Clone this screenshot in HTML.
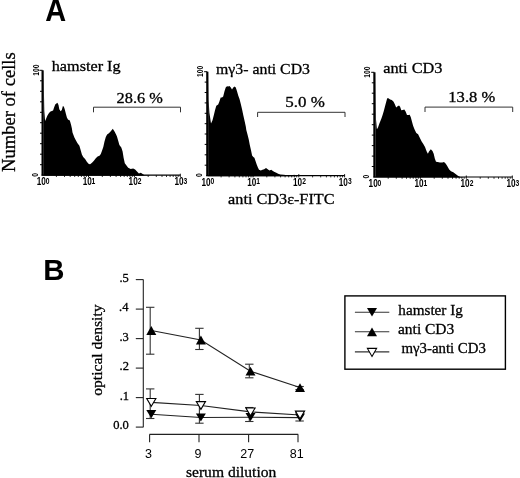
<!DOCTYPE html>
<html><head><meta charset="utf-8"><style>
html,body{margin:0;padding:0;background:#fff;width:520px;height:478px;overflow:hidden;}
svg{display:block;will-change:transform;}

</style></head><body>
<svg width="520" height="478" viewBox="0 0 520 478">
<rect width="520" height="478" fill="#fff"/>
<text transform="translate(45.30,20.80) scale(0.9349,1)" font-family="Liberation Sans" font-weight="700" font-size="31" fill="#000">A</text>
<text transform="translate(14.90,171.92) rotate(-90) scale(1.0324,1)" font-family="Liberation Serif" font-weight="400" font-size="18" fill="#000" stroke="#000" stroke-width="0.3">Number of cells</text>
<polygon points="43.5,175.8 43.5,70.5 44.3,111.0 45.1,120.9 45.9,119.3 47.2,115.9 48.5,113.8 50.1,111.7 51.8,110.9 53.1,110.5 53.9,108.0 55.2,104.6 56.4,103.4 57.4,102.7 58.5,105.0 59.3,109.2 60.6,111.3 61.8,110.1 62.9,105.9 63.9,106.7 64.8,109.6 66.0,114.2 66.9,117.6 68.1,119.7 69.4,120.1 70.2,121.8 71.1,125.1 71.9,128.5 72.5,132.6 74.4,137.6 75.7,140.1 77.5,143.2 79.4,145.8 80.7,150.2 81.9,154.5 83.2,157.1 85.1,158.9 87.0,162.1 88.8,164.0 90.1,164.2 92.0,162.7 93.9,160.8 95.8,158.3 97.6,156.4 99.5,155.8 100.8,153.9 102.0,150.8 103.3,147.0 104.5,141.4 105.8,137.0 107.1,134.4 108.9,133.2 110.8,131.3 112.8,128.8 114.4,131.3 115.7,133.8 116.9,136.3 118.2,140.7 119.4,145.1 121.3,147.6 122.6,151.4 123.6,157.7 124.8,163.3 126.3,165.2 128.2,167.7 130.7,169.0 133.2,168.4 135.1,169.6 137.0,171.5 138.9,173.4 140.8,172.8 142.7,174.0 144.5,175.3 150.0,175.5 150.0,175.8" fill="#000"/>
<line x1="42.6" y1="70.3" x2="42.6" y2="175.7" stroke="#000" stroke-width="2.2"/>
<line x1="39.4" y1="70.3" x2="42.6" y2="70.3" stroke="#000" stroke-width="1"/>
<line x1="40.0" y1="80.8" x2="42.6" y2="80.8" stroke="#000" stroke-width="1"/>
<line x1="40.0" y1="91.3" x2="42.6" y2="91.3" stroke="#000" stroke-width="1"/>
<line x1="40.0" y1="101.8" x2="42.6" y2="101.8" stroke="#000" stroke-width="1"/>
<line x1="40.0" y1="112.3" x2="42.6" y2="112.3" stroke="#000" stroke-width="1"/>
<line x1="40.0" y1="122.7" x2="42.6" y2="122.7" stroke="#000" stroke-width="1"/>
<line x1="40.0" y1="133.2" x2="42.6" y2="133.2" stroke="#000" stroke-width="1"/>
<line x1="40.0" y1="143.7" x2="42.6" y2="143.7" stroke="#000" stroke-width="1"/>
<line x1="40.0" y1="154.2" x2="42.6" y2="154.2" stroke="#000" stroke-width="1"/>
<line x1="40.0" y1="164.7" x2="42.6" y2="164.7" stroke="#000" stroke-width="1"/>
<line x1="41.6" y1="175.2" x2="180.3" y2="175.2" stroke="#000" stroke-width="1.2"/>
<line x1="56.4" y1="175.2" x2="56.4" y2="177.0" stroke="#000" stroke-width="0.8"/>
<line x1="64.5" y1="175.2" x2="64.5" y2="177.0" stroke="#000" stroke-width="0.8"/>
<line x1="70.2" y1="175.2" x2="70.2" y2="177.0" stroke="#000" stroke-width="0.8"/>
<line x1="74.7" y1="175.2" x2="74.7" y2="177.0" stroke="#000" stroke-width="0.8"/>
<line x1="78.3" y1="175.2" x2="78.3" y2="177.0" stroke="#000" stroke-width="0.8"/>
<line x1="81.4" y1="175.2" x2="81.4" y2="177.0" stroke="#000" stroke-width="0.8"/>
<line x1="84.1" y1="175.2" x2="84.1" y2="177.0" stroke="#000" stroke-width="0.8"/>
<line x1="86.4" y1="175.2" x2="86.4" y2="177.0" stroke="#000" stroke-width="0.8"/>
<line x1="102.3" y1="175.2" x2="102.3" y2="177.0" stroke="#000" stroke-width="0.8"/>
<line x1="110.4" y1="175.2" x2="110.4" y2="177.0" stroke="#000" stroke-width="0.8"/>
<line x1="116.1" y1="175.2" x2="116.1" y2="177.0" stroke="#000" stroke-width="0.8"/>
<line x1="120.6" y1="175.2" x2="120.6" y2="177.0" stroke="#000" stroke-width="0.8"/>
<line x1="124.2" y1="175.2" x2="124.2" y2="177.0" stroke="#000" stroke-width="0.8"/>
<line x1="127.3" y1="175.2" x2="127.3" y2="177.0" stroke="#000" stroke-width="0.8"/>
<line x1="130.0" y1="175.2" x2="130.0" y2="177.0" stroke="#000" stroke-width="0.8"/>
<line x1="132.3" y1="175.2" x2="132.3" y2="177.0" stroke="#000" stroke-width="0.8"/>
<line x1="148.2" y1="175.2" x2="148.2" y2="177.0" stroke="#000" stroke-width="0.8"/>
<line x1="156.3" y1="175.2" x2="156.3" y2="177.0" stroke="#000" stroke-width="0.8"/>
<line x1="162.0" y1="175.2" x2="162.0" y2="177.0" stroke="#000" stroke-width="0.8"/>
<line x1="166.5" y1="175.2" x2="166.5" y2="177.0" stroke="#000" stroke-width="0.8"/>
<line x1="170.1" y1="175.2" x2="170.1" y2="177.0" stroke="#000" stroke-width="0.8"/>
<line x1="173.2" y1="175.2" x2="173.2" y2="177.0" stroke="#000" stroke-width="0.8"/>
<line x1="175.9" y1="175.2" x2="175.9" y2="177.0" stroke="#000" stroke-width="0.8"/>
<line x1="178.2" y1="175.2" x2="178.2" y2="177.0" stroke="#000" stroke-width="0.8"/>
<line x1="88.5" y1="173.7" x2="88.5" y2="177.0" stroke="#000" stroke-width="0.9"/>
<line x1="134.4" y1="173.7" x2="134.4" y2="177.0" stroke="#000" stroke-width="0.9"/>
<line x1="180.3" y1="173.7" x2="180.3" y2="177.0" stroke="#000" stroke-width="0.9"/>
<text transform="translate(36.79,185.10) scale(0.8200,1)" font-family="Liberation Sans" font-weight="700" font-size="10" fill="#000">10</text>
<text transform="translate(45.81,183.90) scale(0.7800,1)" font-family="Liberation Sans" font-weight="700" font-size="8.6" fill="#000">0</text>
<text transform="translate(82.69,185.10) scale(0.8200,1)" font-family="Liberation Sans" font-weight="700" font-size="10" fill="#000">10</text>
<text transform="translate(91.61,183.90) scale(0.7800,1)" font-family="Liberation Sans" font-weight="700" font-size="8.6" fill="#000">1</text>
<text transform="translate(128.59,185.10) scale(0.8200,1)" font-family="Liberation Sans" font-weight="700" font-size="10" fill="#000">10</text>
<text transform="translate(137.71,183.90) scale(0.7800,1)" font-family="Liberation Sans" font-weight="700" font-size="8.6" fill="#000">2</text>
<text transform="translate(174.49,185.10) scale(0.8200,1)" font-family="Liberation Sans" font-weight="700" font-size="10" fill="#000">10</text>
<text transform="translate(183.61,183.90) scale(0.7800,1)" font-family="Liberation Sans" font-weight="700" font-size="8.6" fill="#000">3</text>
<text transform="translate(38.60,75.70) rotate(-90) scale(0.8000,1)" font-family="Liberation Sans" font-weight="700" font-size="8.5" fill="#000">100</text>
<text transform="translate(37.60,176.70) rotate(-90) scale(0.8000,1)" font-family="Liberation Sans" font-weight="700" font-size="8.5" fill="#000">0</text>
<text transform="translate(51.76,70.90) scale(1.0809,1)" font-family="Liberation Serif" font-weight="400" font-size="15" fill="#000" stroke="#000" stroke-width="0.3">hamster Ig</text>
<text transform="translate(116.62,102.60) scale(1.0876,1)" font-family="Liberation Serif" font-weight="400" font-size="15" fill="#000" stroke="#000" stroke-width="0.3">28.6 %</text>
<polyline points="93.5,112.3 93.5,107.2 180.5,107.2 180.5,112.3" fill="none" stroke="#333" stroke-width="1"/>
<polygon points="208.2,176.2 208.2,72.0 208.6,100.0 209.4,112.7 211.0,123.4 212.5,120.2 213.8,115.2 215.0,110.2 216.3,105.8 218.2,104.5 219.4,101.4 220.7,97.4 222.0,97.6 223.2,96.4 224.5,91.3 225.7,87.6 227.0,86.3 228.2,86.6 229.5,86.1 230.8,87.6 232.0,89.4 233.3,87.6 234.5,86.6 235.8,87.6 237.0,91.3 238.3,95.7 239.5,98.9 240.8,103.9 242.1,109.5 243.3,115.2 244.6,120.9 245.8,126.5 246.3,130.0 247.5,134.6 248.7,139.2 249.8,145.0 251.0,150.2 252.1,155.4 253.3,157.1 254.4,157.7 255.6,161.2 256.7,164.6 257.9,167.5 259.0,169.8 260.8,170.4 262.5,169.8 264.2,169.2 266.0,168.1 267.7,169.2 269.4,170.4 271.2,169.8 272.9,171.0 274.6,172.1 276.3,172.7 278.1,173.8 280.4,174.4 283.8,174.8 287.3,175.2 289.6,175.9 294.2,174.8 296.5,175.9 296.5,176.2" fill="#000"/>
<line x1="207.3" y1="71.7" x2="207.3" y2="176.1" stroke="#000" stroke-width="2.2"/>
<line x1="204.10000000000002" y1="71.7" x2="207.3" y2="71.7" stroke="#000" stroke-width="1"/>
<line x1="204.70000000000002" y1="82.1" x2="207.3" y2="82.1" stroke="#000" stroke-width="1"/>
<line x1="204.70000000000002" y1="92.5" x2="207.3" y2="92.5" stroke="#000" stroke-width="1"/>
<line x1="204.70000000000002" y1="102.9" x2="207.3" y2="102.9" stroke="#000" stroke-width="1"/>
<line x1="204.70000000000002" y1="113.3" x2="207.3" y2="113.3" stroke="#000" stroke-width="1"/>
<line x1="204.70000000000002" y1="123.7" x2="207.3" y2="123.7" stroke="#000" stroke-width="1"/>
<line x1="204.70000000000002" y1="134.0" x2="207.3" y2="134.0" stroke="#000" stroke-width="1"/>
<line x1="204.70000000000002" y1="144.4" x2="207.3" y2="144.4" stroke="#000" stroke-width="1"/>
<line x1="204.70000000000002" y1="154.8" x2="207.3" y2="154.8" stroke="#000" stroke-width="1"/>
<line x1="204.70000000000002" y1="165.2" x2="207.3" y2="165.2" stroke="#000" stroke-width="1"/>
<line x1="206.3" y1="175.6" x2="344.6" y2="175.6" stroke="#000" stroke-width="1.2"/>
<line x1="221.1" y1="175.6" x2="221.1" y2="177.4" stroke="#000" stroke-width="0.8"/>
<line x1="229.1" y1="175.6" x2="229.1" y2="177.4" stroke="#000" stroke-width="0.8"/>
<line x1="234.9" y1="175.6" x2="234.9" y2="177.4" stroke="#000" stroke-width="0.8"/>
<line x1="239.3" y1="175.6" x2="239.3" y2="177.4" stroke="#000" stroke-width="0.8"/>
<line x1="242.9" y1="175.6" x2="242.9" y2="177.4" stroke="#000" stroke-width="0.8"/>
<line x1="246.0" y1="175.6" x2="246.0" y2="177.4" stroke="#000" stroke-width="0.8"/>
<line x1="248.6" y1="175.6" x2="248.6" y2="177.4" stroke="#000" stroke-width="0.8"/>
<line x1="251.0" y1="175.6" x2="251.0" y2="177.4" stroke="#000" stroke-width="0.8"/>
<line x1="266.8" y1="175.6" x2="266.8" y2="177.4" stroke="#000" stroke-width="0.8"/>
<line x1="274.9" y1="175.6" x2="274.9" y2="177.4" stroke="#000" stroke-width="0.8"/>
<line x1="280.6" y1="175.6" x2="280.6" y2="177.4" stroke="#000" stroke-width="0.8"/>
<line x1="285.1" y1="175.6" x2="285.1" y2="177.4" stroke="#000" stroke-width="0.8"/>
<line x1="288.7" y1="175.6" x2="288.7" y2="177.4" stroke="#000" stroke-width="0.8"/>
<line x1="291.7" y1="175.6" x2="291.7" y2="177.4" stroke="#000" stroke-width="0.8"/>
<line x1="294.4" y1="175.6" x2="294.4" y2="177.4" stroke="#000" stroke-width="0.8"/>
<line x1="296.7" y1="175.6" x2="296.7" y2="177.4" stroke="#000" stroke-width="0.8"/>
<line x1="312.6" y1="175.6" x2="312.6" y2="177.4" stroke="#000" stroke-width="0.8"/>
<line x1="320.7" y1="175.6" x2="320.7" y2="177.4" stroke="#000" stroke-width="0.8"/>
<line x1="326.4" y1="175.6" x2="326.4" y2="177.4" stroke="#000" stroke-width="0.8"/>
<line x1="330.8" y1="175.6" x2="330.8" y2="177.4" stroke="#000" stroke-width="0.8"/>
<line x1="334.4" y1="175.6" x2="334.4" y2="177.4" stroke="#000" stroke-width="0.8"/>
<line x1="337.5" y1="175.6" x2="337.5" y2="177.4" stroke="#000" stroke-width="0.8"/>
<line x1="340.2" y1="175.6" x2="340.2" y2="177.4" stroke="#000" stroke-width="0.8"/>
<line x1="342.5" y1="175.6" x2="342.5" y2="177.4" stroke="#000" stroke-width="0.8"/>
<line x1="253.1" y1="174.1" x2="253.1" y2="177.4" stroke="#000" stroke-width="0.9"/>
<line x1="298.8" y1="174.1" x2="298.8" y2="177.4" stroke="#000" stroke-width="0.9"/>
<line x1="344.6" y1="174.1" x2="344.6" y2="177.4" stroke="#000" stroke-width="0.9"/>
<text transform="translate(201.49,185.50) scale(0.8200,1)" font-family="Liberation Sans" font-weight="700" font-size="10" fill="#000">10</text>
<text transform="translate(210.51,184.30) scale(0.7800,1)" font-family="Liberation Sans" font-weight="700" font-size="8.6" fill="#000">0</text>
<text transform="translate(247.25,185.50) scale(0.8200,1)" font-family="Liberation Sans" font-weight="700" font-size="10" fill="#000">10</text>
<text transform="translate(256.18,184.30) scale(0.7800,1)" font-family="Liberation Sans" font-weight="700" font-size="8.6" fill="#000">1</text>
<text transform="translate(293.02,185.50) scale(0.8200,1)" font-family="Liberation Sans" font-weight="700" font-size="10" fill="#000">10</text>
<text transform="translate(302.14,184.30) scale(0.7800,1)" font-family="Liberation Sans" font-weight="700" font-size="8.6" fill="#000">2</text>
<text transform="translate(338.79,185.50) scale(0.8200,1)" font-family="Liberation Sans" font-weight="700" font-size="10" fill="#000">10</text>
<text transform="translate(347.91,184.30) scale(0.7800,1)" font-family="Liberation Sans" font-weight="700" font-size="8.6" fill="#000">3</text>
<text transform="translate(203.30,77.10) rotate(-90) scale(0.8000,1)" font-family="Liberation Sans" font-weight="700" font-size="8.5" fill="#000">100</text>
<text transform="translate(202.30,177.10) rotate(-90) scale(0.8000,1)" font-family="Liberation Sans" font-weight="700" font-size="8.5" fill="#000">0</text>
<text transform="translate(216.04,73.70) scale(1.0550,1)" font-family="Liberation Serif" font-weight="400" font-size="15" fill="#000" stroke="#000" stroke-width="0.3">mγ3- anti CD3</text>
<text transform="translate(285.21,106.90) scale(1.1301,1)" font-family="Liberation Serif" font-weight="400" font-size="15" fill="#000" stroke="#000" stroke-width="0.3">5.0 %</text>
<polyline points="257.6,117.0 257.6,112.3 345.0,112.3 345.0,117.0" fill="none" stroke="#333" stroke-width="1"/>
<polygon points="375.4,177.6 375.4,73.0 376.0,119.5 376.9,129.3 378.0,127.5 379.2,124.1 380.3,121.2 381.5,118.3 382.6,114.9 383.8,110.9 384.9,106.8 386.1,102.2 387.2,98.2 388.4,98.2 390.1,99.4 391.8,99.9 393.6,101.7 394.7,104.0 396.2,107.4 397.6,106.3 399.0,105.5 400.1,106.8 401.3,110.3 402.8,110.1 404.3,109.4 405.6,111.4 407.0,114.9 408.5,114.9 409.7,114.7 410.8,117.2 412.0,121.8 413.1,125.8 414.6,129.6 416.3,133.1 418.1,134.2 419.8,137.7 421.5,141.2 423.3,144.0 425.0,146.9 426.7,151.5 427.9,153.8 429.0,151.5 430.8,149.2 432.5,151.0 433.7,153.8 434.8,158.5 436.0,161.7 437.7,161.9 440.0,162.5 442.3,162.5 444.0,161.9 445.8,163.7 447.5,166.5 449.2,169.4 451.0,171.2 453.3,172.3 455.6,174.0 457.9,175.8 460.2,176.9 464.2,177.5 464.2,177.6" fill="#000"/>
<line x1="374.4" y1="72.3" x2="374.4" y2="177.5" stroke="#000" stroke-width="2.2"/>
<line x1="371.2" y1="72.3" x2="374.4" y2="72.3" stroke="#000" stroke-width="1"/>
<line x1="371.79999999999995" y1="82.8" x2="374.4" y2="82.8" stroke="#000" stroke-width="1"/>
<line x1="371.79999999999995" y1="93.2" x2="374.4" y2="93.2" stroke="#000" stroke-width="1"/>
<line x1="371.79999999999995" y1="103.7" x2="374.4" y2="103.7" stroke="#000" stroke-width="1"/>
<line x1="371.79999999999995" y1="114.2" x2="374.4" y2="114.2" stroke="#000" stroke-width="1"/>
<line x1="371.79999999999995" y1="124.7" x2="374.4" y2="124.7" stroke="#000" stroke-width="1"/>
<line x1="371.79999999999995" y1="135.1" x2="374.4" y2="135.1" stroke="#000" stroke-width="1"/>
<line x1="371.79999999999995" y1="145.6" x2="374.4" y2="145.6" stroke="#000" stroke-width="1"/>
<line x1="371.79999999999995" y1="156.1" x2="374.4" y2="156.1" stroke="#000" stroke-width="1"/>
<line x1="371.79999999999995" y1="166.5" x2="374.4" y2="166.5" stroke="#000" stroke-width="1"/>
<line x1="373.4" y1="177.0" x2="512.3" y2="177.0" stroke="#000" stroke-width="1.2"/>
<line x1="388.2" y1="177.0" x2="388.2" y2="178.8" stroke="#000" stroke-width="0.8"/>
<line x1="396.3" y1="177.0" x2="396.3" y2="178.8" stroke="#000" stroke-width="0.8"/>
<line x1="402.1" y1="177.0" x2="402.1" y2="178.8" stroke="#000" stroke-width="0.8"/>
<line x1="406.5" y1="177.0" x2="406.5" y2="178.8" stroke="#000" stroke-width="0.8"/>
<line x1="410.2" y1="177.0" x2="410.2" y2="178.8" stroke="#000" stroke-width="0.8"/>
<line x1="413.2" y1="177.0" x2="413.2" y2="178.8" stroke="#000" stroke-width="0.8"/>
<line x1="415.9" y1="177.0" x2="415.9" y2="178.8" stroke="#000" stroke-width="0.8"/>
<line x1="418.3" y1="177.0" x2="418.3" y2="178.8" stroke="#000" stroke-width="0.8"/>
<line x1="434.2" y1="177.0" x2="434.2" y2="178.8" stroke="#000" stroke-width="0.8"/>
<line x1="442.3" y1="177.0" x2="442.3" y2="178.8" stroke="#000" stroke-width="0.8"/>
<line x1="448.0" y1="177.0" x2="448.0" y2="178.8" stroke="#000" stroke-width="0.8"/>
<line x1="452.5" y1="177.0" x2="452.5" y2="178.8" stroke="#000" stroke-width="0.8"/>
<line x1="456.1" y1="177.0" x2="456.1" y2="178.8" stroke="#000" stroke-width="0.8"/>
<line x1="459.2" y1="177.0" x2="459.2" y2="178.8" stroke="#000" stroke-width="0.8"/>
<line x1="461.9" y1="177.0" x2="461.9" y2="178.8" stroke="#000" stroke-width="0.8"/>
<line x1="464.2" y1="177.0" x2="464.2" y2="178.8" stroke="#000" stroke-width="0.8"/>
<line x1="480.2" y1="177.0" x2="480.2" y2="178.8" stroke="#000" stroke-width="0.8"/>
<line x1="488.3" y1="177.0" x2="488.3" y2="178.8" stroke="#000" stroke-width="0.8"/>
<line x1="494.0" y1="177.0" x2="494.0" y2="178.8" stroke="#000" stroke-width="0.8"/>
<line x1="498.5" y1="177.0" x2="498.5" y2="178.8" stroke="#000" stroke-width="0.8"/>
<line x1="502.1" y1="177.0" x2="502.1" y2="178.8" stroke="#000" stroke-width="0.8"/>
<line x1="505.2" y1="177.0" x2="505.2" y2="178.8" stroke="#000" stroke-width="0.8"/>
<line x1="507.8" y1="177.0" x2="507.8" y2="178.8" stroke="#000" stroke-width="0.8"/>
<line x1="510.2" y1="177.0" x2="510.2" y2="178.8" stroke="#000" stroke-width="0.8"/>
<line x1="420.4" y1="175.5" x2="420.4" y2="178.8" stroke="#000" stroke-width="0.9"/>
<line x1="466.3" y1="175.5" x2="466.3" y2="178.8" stroke="#000" stroke-width="0.9"/>
<line x1="512.3" y1="175.5" x2="512.3" y2="178.8" stroke="#000" stroke-width="0.9"/>
<text transform="translate(368.59,186.90) scale(0.8200,1)" font-family="Liberation Sans" font-weight="700" font-size="10" fill="#000">10</text>
<text transform="translate(377.61,185.70) scale(0.7800,1)" font-family="Liberation Sans" font-weight="700" font-size="8.6" fill="#000">0</text>
<text transform="translate(414.55,186.90) scale(0.8200,1)" font-family="Liberation Sans" font-weight="700" font-size="10" fill="#000">10</text>
<text transform="translate(423.48,185.70) scale(0.7800,1)" font-family="Liberation Sans" font-weight="700" font-size="8.6" fill="#000">1</text>
<text transform="translate(460.52,186.90) scale(0.8200,1)" font-family="Liberation Sans" font-weight="700" font-size="10" fill="#000">10</text>
<text transform="translate(469.64,185.70) scale(0.7800,1)" font-family="Liberation Sans" font-weight="700" font-size="8.6" fill="#000">2</text>
<text transform="translate(506.49,186.90) scale(0.8200,1)" font-family="Liberation Sans" font-weight="700" font-size="10" fill="#000">10</text>
<text transform="translate(515.60,185.70) scale(0.7800,1)" font-family="Liberation Sans" font-weight="700" font-size="8.6" fill="#000">3</text>
<text transform="translate(370.40,77.70) rotate(-90) scale(0.8000,1)" font-family="Liberation Sans" font-weight="700" font-size="8.5" fill="#000">100</text>
<text transform="translate(369.40,178.50) rotate(-90) scale(0.8000,1)" font-family="Liberation Sans" font-weight="700" font-size="8.5" fill="#000">0</text>
<text transform="translate(383.16,73.30) scale(1.0879,1)" font-family="Liberation Serif" font-weight="400" font-size="15" fill="#000" stroke="#000" stroke-width="0.3">anti CD3</text>
<text transform="translate(448.32,102.10) scale(1.1043,1)" font-family="Liberation Serif" font-weight="400" font-size="15" fill="#000" stroke="#000" stroke-width="0.3">13.8 %</text>
<polyline points="425.0,112.0 425.0,107.1 512.7,107.1 512.7,112.0" fill="none" stroke="#333" stroke-width="1"/>
<text transform="translate(228.06,204.20) scale(1.0831,1)" font-family="Liberation Serif" font-weight="400" font-size="15" fill="#000" stroke="#000" stroke-width="0.3">anti CD3ε-FITC</text>
<text transform="translate(43.14,280.30) scale(0.9796,1)" font-family="Liberation Sans" font-weight="700" font-size="30" fill="#000">B</text>
<line x1="143.3" y1="279.6" x2="143.3" y2="427.2" stroke="#222" stroke-width="1.1"/>
<line x1="135.8" y1="279.6" x2="143.3" y2="279.6" stroke="#222" stroke-width="1.1"/>
<text transform="translate(119.43,281.60) scale(1.0000,1)" font-family="Liberation Serif" font-weight="400" font-size="12.5" fill="#000" stroke="#000" stroke-width="0.3">.5</text>
<line x1="135.8" y1="309.1" x2="143.3" y2="309.1" stroke="#222" stroke-width="1.1"/>
<text transform="translate(119.05,311.10) scale(1.0000,1)" font-family="Liberation Serif" font-weight="400" font-size="12.5" fill="#000" stroke="#000" stroke-width="0.3">.4</text>
<line x1="135.8" y1="338.6" x2="143.3" y2="338.6" stroke="#222" stroke-width="1.1"/>
<text transform="translate(119.43,340.60) scale(1.0000,1)" font-family="Liberation Serif" font-weight="400" font-size="12.5" fill="#000" stroke="#000" stroke-width="0.3">.3</text>
<line x1="135.8" y1="368.1" x2="143.3" y2="368.1" stroke="#222" stroke-width="1.1"/>
<text transform="translate(119.55,370.10) scale(1.0000,1)" font-family="Liberation Serif" font-weight="400" font-size="12.5" fill="#000" stroke="#000" stroke-width="0.3">.2</text>
<line x1="135.8" y1="397.6" x2="143.3" y2="397.6" stroke="#222" stroke-width="1.1"/>
<text transform="translate(119.68,399.60) scale(1.0000,1)" font-family="Liberation Serif" font-weight="400" font-size="12.5" fill="#000" stroke="#000" stroke-width="0.3">.1</text>
<line x1="135.8" y1="427.1" x2="143.3" y2="427.1" stroke="#222" stroke-width="1.1"/>
<text transform="translate(113.18,429.10) scale(1.0000,1)" font-family="Liberation Serif" font-weight="400" font-size="12.5" fill="#000" stroke="#000" stroke-width="0.3">0.0</text>
<text transform="translate(102.00,395.72) rotate(-90) scale(1.0392,1)" font-family="Liberation Serif" font-weight="400" font-size="15" fill="#000" stroke="#000" stroke-width="0.3">optical density</text>
<line x1="149.4" y1="434.4" x2="298.2" y2="434.4" stroke="#222" stroke-width="1.1"/>
<line x1="149.6" y1="434.4" x2="149.6" y2="442.2" stroke="#222" stroke-width="1.1"/>
<line x1="199.0" y1="434.4" x2="199.0" y2="442.2" stroke="#222" stroke-width="1.1"/>
<line x1="248.6" y1="434.4" x2="248.6" y2="442.2" stroke="#222" stroke-width="1.1"/>
<line x1="298.0" y1="434.4" x2="298.0" y2="442.2" stroke="#222" stroke-width="1.1"/>
<text transform="translate(145.11,457.50) scale(1.0000,1)" font-family="Liberation Sans" font-weight="400" font-size="12.5" fill="#000">3</text>
<text transform="translate(194.45,457.50) scale(1.0000,1)" font-family="Liberation Sans" font-weight="400" font-size="12.5" fill="#000">9</text>
<text transform="translate(240.30,457.50) scale(1.0000,1)" font-family="Liberation Sans" font-weight="400" font-size="12.5" fill="#000">27</text>
<text transform="translate(289.76,457.50) scale(1.0000,1)" font-family="Liberation Sans" font-weight="400" font-size="12.5" fill="#000">81</text>
<text transform="translate(185.95,476.50) scale(1.0388,1)" font-family="Liberation Serif" font-weight="400" font-size="15" fill="#000" stroke="#000" stroke-width="0.3">serum dilution</text>
<line x1="150.2" y1="307.3" x2="150.2" y2="354.2" stroke="#333" stroke-width="1.1"/>
<line x1="146.0" y1="307.3" x2="154.39999999999998" y2="307.3" stroke="#333" stroke-width="1.1"/>
<line x1="146.0" y1="354.2" x2="154.39999999999998" y2="354.2" stroke="#333" stroke-width="1.1"/>
<line x1="199.4" y1="328.3" x2="199.4" y2="349.5" stroke="#333" stroke-width="1.1"/>
<line x1="195.20000000000002" y1="328.3" x2="203.6" y2="328.3" stroke="#333" stroke-width="1.1"/>
<line x1="195.20000000000002" y1="349.5" x2="203.6" y2="349.5" stroke="#333" stroke-width="1.1"/>
<line x1="249.3" y1="364.2" x2="249.3" y2="377.8" stroke="#333" stroke-width="1.1"/>
<line x1="245.10000000000002" y1="364.2" x2="253.5" y2="364.2" stroke="#333" stroke-width="1.1"/>
<line x1="245.10000000000002" y1="377.8" x2="253.5" y2="377.8" stroke="#333" stroke-width="1.1"/>
<line x1="299.6" y1="386.5" x2="299.6" y2="389.6" stroke="#333" stroke-width="1.1"/>
<line x1="295.40000000000003" y1="386.5" x2="303.8" y2="386.5" stroke="#333" stroke-width="1.1"/>
<line x1="295.40000000000003" y1="389.6" x2="303.8" y2="389.6" stroke="#333" stroke-width="1.1"/>
<line x1="150.2" y1="388.9" x2="150.2" y2="418.5" stroke="#333" stroke-width="1.1"/>
<line x1="146.0" y1="388.9" x2="154.39999999999998" y2="388.9" stroke="#333" stroke-width="1.1"/>
<line x1="146.0" y1="418.5" x2="154.39999999999998" y2="418.5" stroke="#333" stroke-width="1.1"/>
<line x1="199.4" y1="394.4" x2="199.4" y2="423.2" stroke="#333" stroke-width="1.1"/>
<line x1="195.20000000000002" y1="394.4" x2="203.6" y2="394.4" stroke="#333" stroke-width="1.1"/>
<line x1="195.20000000000002" y1="423.2" x2="203.6" y2="423.2" stroke="#333" stroke-width="1.1"/>
<line x1="249.3" y1="407.5" x2="249.3" y2="421.5" stroke="#333" stroke-width="1.1"/>
<line x1="245.10000000000002" y1="407.5" x2="253.5" y2="407.5" stroke="#333" stroke-width="1.1"/>
<line x1="245.10000000000002" y1="421.5" x2="253.5" y2="421.5" stroke="#333" stroke-width="1.1"/>
<line x1="299.6" y1="412.5" x2="299.6" y2="421.0" stroke="#333" stroke-width="1.1"/>
<line x1="295.40000000000003" y1="412.5" x2="303.8" y2="412.5" stroke="#333" stroke-width="1.1"/>
<line x1="295.40000000000003" y1="421.0" x2="303.8" y2="421.0" stroke="#333" stroke-width="1.1"/>
<polyline points="151.3,330.5 200.9,340.0 250.5,371.2 300.0,387.6" fill="none" stroke="#222" stroke-width="1.1"/>
<polyline points="151.3,402.4 200.9,405.5 250.5,411.9 300.0,415.0" fill="none" stroke="#222" stroke-width="1.1"/>
<polyline points="151.3,414.2 200.9,417.5 250.5,417.2 300.0,417.6" fill="none" stroke="#222" stroke-width="1.1"/>
<polygon points="151.3,326.1 156.3,334.9 146.3,334.9" fill="#000"/>
<polygon points="200.9,335.6 205.9,344.4 195.9,344.4" fill="#000"/>
<polygon points="250.5,366.8 255.5,375.6 245.5,375.6" fill="#000"/>
<polygon points="300.0,383.2 305.0,392.0 295.0,392.0" fill="#000"/>
<polygon points="151.3,418.3 156.3,410.1 146.3,410.1" fill="#000"/>
<polygon points="200.9,421.6 205.9,413.4 195.9,413.4" fill="#000"/>
<polygon points="250.5,421.3 255.5,413.1 245.5,413.1" fill="#000"/>
<polygon points="300.0,421.8 305.0,413.5 295.0,413.5" fill="#000"/>
<polygon points="151.3,406.3 155.9,398.5 146.7,398.5" fill="#fff" stroke="#000" stroke-width="1.1"/>
<polygon points="200.9,409.4 205.5,401.6 196.3,401.6" fill="#fff" stroke="#000" stroke-width="1.1"/>
<polygon points="250.5,415.8 255.1,408.0 245.9,408.0" fill="#fff" stroke="#000" stroke-width="1.1"/>
<polygon points="300.0,418.9 304.6,411.1 295.4,411.1" fill="#fff" stroke="#000" stroke-width="1.1"/>
<rect x="344.9" y="295.9" width="160.5" height="73.3" fill="none" stroke="#000" stroke-width="1.4"/>
<line x1="354.9" y1="312.2" x2="389.3" y2="312.2" stroke="#333" stroke-width="1.1"/>
<polygon points="372.0,316.4 377.0,307.9 367.0,307.9" fill="#000"/>
<line x1="354.9" y1="331.8" x2="389.3" y2="331.8" stroke="#333" stroke-width="1.1"/>
<polygon points="372.0,327.4 377.0,336.2 367.0,336.2" fill="#000"/>
<line x1="354.9" y1="351.9" x2="389.3" y2="351.9" stroke="#333" stroke-width="1.1"/>
<polygon points="372.0,356.4 376.6,348.4 367.4,348.4" fill="#fff" stroke="#000" stroke-width="1.1"/>
<text transform="translate(398.37,314.80) scale(1.0130,1)" font-family="Liberation Serif" font-weight="400" font-size="15" fill="#000" stroke="#000" stroke-width="0.3">hamster Ig</text>
<text transform="translate(397.98,333.50) scale(1.0318,1)" font-family="Liberation Serif" font-weight="400" font-size="15" fill="#000" stroke="#000" stroke-width="0.3">anti CD3</text>
<text transform="translate(401.45,353.30) scale(0.9905,1)" font-family="Liberation Serif" font-weight="400" font-size="15" fill="#000" stroke="#000" stroke-width="0.3">mγ3-anti CD3</text>
</svg>
</body></html>
